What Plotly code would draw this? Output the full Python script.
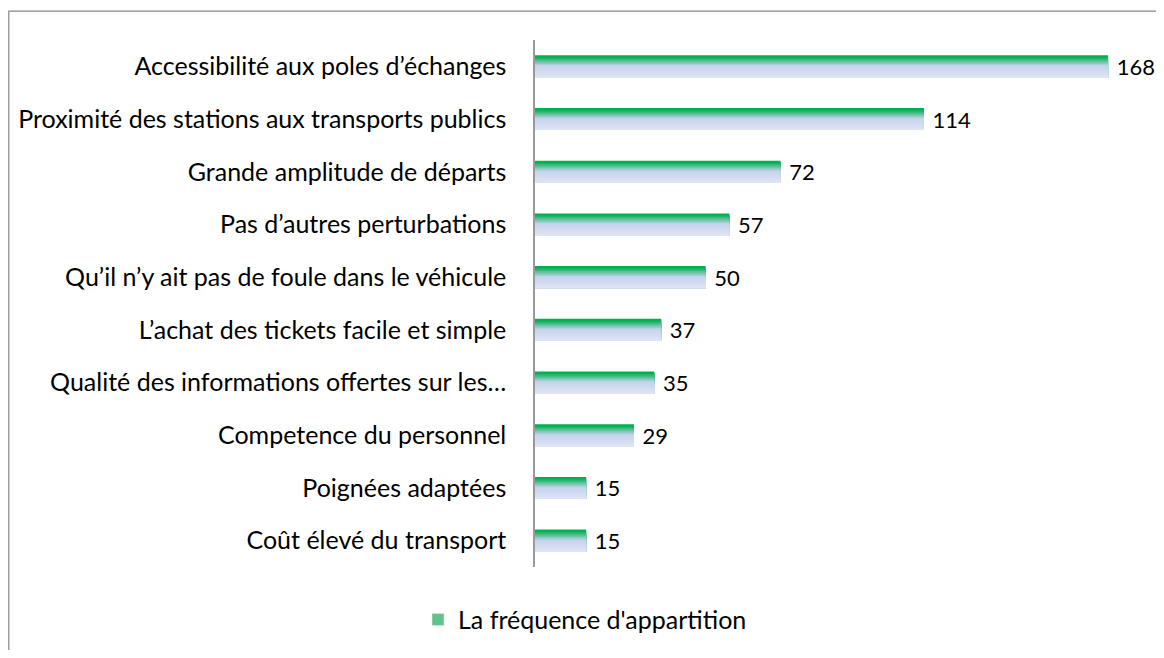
import plotly.graph_objects as go

# données
categories = [
    "Accessibilité aux poles d’échanges",
    "Proximité des stations aux transports publics",
    "Grande amplitude de départs",
    "Pas d’autres perturbations",
    "Qu’il n’y ait pas de foule dans le véhicule",
    "L’achat des tickets facile et simple",
    "Qualité des informations offertes sur les…",
    "Competence du personnel",
    "Poignées adaptées",
    "Coût élevé du transport",
]
frequences = [168, 114, 72, 57, 50, 37, 35, 29, 15, 15]
serie_nom = "La fréquence d'appartition"

FONT = "Lato, 'Open Sans', sans-serif"
FS = 25
BAR_W = 0.42
N_STRIPS = 18

# dégradé vert -> bleu lavande (haut -> bas de la barre)
STOPS = [(0.0, (0, 176, 80)), (0.08, (0, 176, 80)), (0.48, (198, 211, 238)), (1.0, (222, 229, 244))]


def couleur(t):
    for (t0, c0), (t1, c1) in zip(STOPS, STOPS[1:]):
        if t <= t1:
            f = 0 if t1 == t0 else (t - t0) / (t1 - t0)
            rgb = [round(a + (b - a) * f) for a, b in zip(c0, c1)]
            return "rgb(%d,%d,%d)" % tuple(rgb)
    return "rgb(%d,%d,%d)" % STOPS[-1][1]


fig = go.Figure()
for i in range(N_STRIPS):
    t = (i + 0.5) / N_STRIPS
    first = i == 0
    fig.add_trace(
        go.Bar(
            x=frequences,
            y=categories,
            orientation="h",
            offset=-BAR_W / 2 + i * BAR_W / N_STRIPS,
            width=BAR_W * (1 - i / N_STRIPS),
            marker=dict(color=couleur(t), line=dict(width=0)),
            text=["\u00a0" + str(v) for v in frequences] if first else None,
            textposition="outside" if first else "none",
            textfont=dict(family=FONT, size=22, color="#000000"),
            constraintext="none",
            cliponaxis=False,
            showlegend=False,
            hoverinfo="x+y" if first else "skip",
        )
    )

# entrée de légende seule
fig.add_trace(
    go.Bar(
        x=[None],
        y=[categories[0]],
        orientation="h",
        name=serie_nom,
        marker=dict(color="#62c28c"),
        showlegend=True,
    )
)

# taille réduite pour tenir dans la fenêtre avec la marge de 8 px du body
W, H = 1148, 642
L, R, T, B = 527, 7, 32, 81
pw, ph = W - L - R, H - T - B

# cadre du graphique
fig.add_shape(
    type="rect",
    xref="paper", yref="paper",
    x0=(0.8 - L) / pw, x1=(W + 10 - L) / pw,
    y0=(H - B - (H + 10)) / ph, y1=(H - B - 3) / ph,
    line=dict(color="#868686", width=1.2),
    fillcolor="rgba(0,0,0,0)",
    layer="below",
)

fig.update_layout(
    width=W,
    height=H,
    margin=dict(l=L, r=R, t=T, b=B),
    barmode="overlay",
    plot_bgcolor="white",
    paper_bgcolor="white",
    font=dict(family=FONT, size=FS, color="#000000"),
    xaxis=dict(range=[0, 180], visible=False, showgrid=False, zeroline=False),
    yaxis=dict(
        type="category",
        categoryorder="array",
        categoryarray=categories,
        range=[len(categories) - 0.5, -0.5],
        showline=True,
        linecolor="#9a9a9a",
        linewidth=1.5,
        showgrid=False,
        ticks="",
        ticklabelstandoff=22,
        tickfont=dict(family=FONT, size=FS, color="#000000"),
    ),
    legend=dict(
        orientation="h",
        x=(577 - L) / pw,
        xanchor="center",
        y=(H - B - 614) / ph,
        yanchor="middle",
        font=dict(family=FONT, size=FS),
        bgcolor="rgba(0,0,0,0)",
    ),
)

fig.write_html("out.html")
